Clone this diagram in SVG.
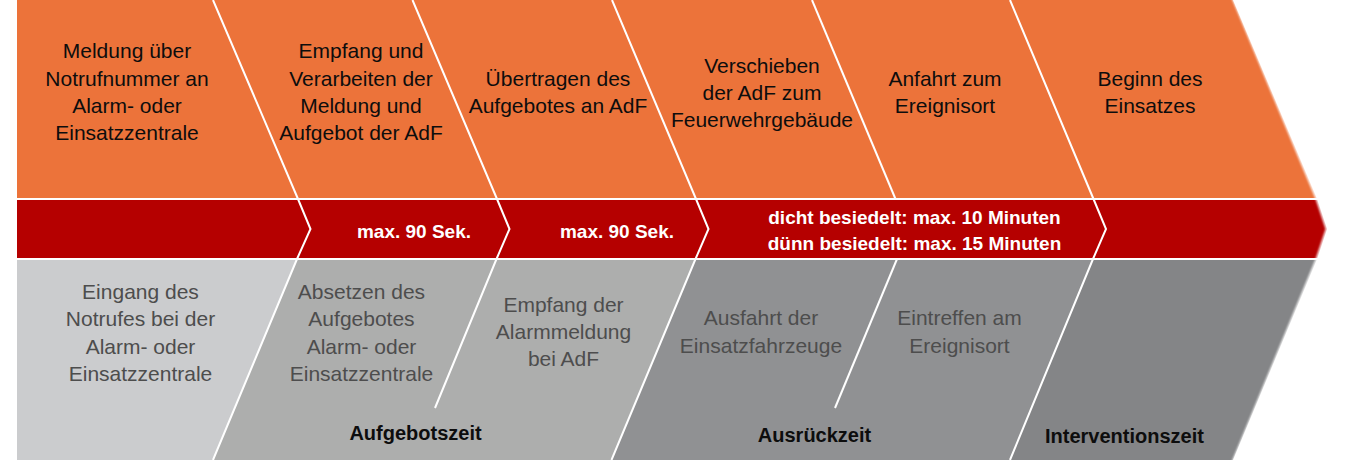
<svg xmlns="http://www.w3.org/2000/svg" width="1350" height="460" viewBox="0 0 1350 460">
  <style>
    .t { font-family: "Liberation Sans", Arial, sans-serif; font-size: 21px; text-anchor: middle; }
    .top { fill: #0d0d0d; }
    .low { fill: #4d4d4d; }
    .red { font-family: "Liberation Sans", Arial, sans-serif; font-size: 19px; font-weight: bold; fill: #ffffff; text-anchor: middle; }
    .phase { font-family: "Liberation Sans", Arial, sans-serif; font-size: 20px; font-weight: bold; fill: #0d0d0d; text-anchor: middle; }
    .sep { fill: none; stroke: #ffffff; stroke-width: 2; stroke-linejoin: miter; }
  </style>
  <defs>
    <filter id="soft" x="-5%" y="-5%" width="110%" height="110%">
      <feGaussianBlur stdDeviation="1.3"/>
    </filter>
  </defs>
  <rect width="1350" height="460" fill="#ffffff"/>

  <g id="bands">
    <polygon points="17,0 1233,0 1317,199 17,199" fill="#EC733A"/>
    <polygon points="17,199 1317,199 1327,229 1317,259 17,259" fill="#B50000"/>
    <polygon points="17,259 297,259 213,460 17,460" fill="#CBCCCE"/>
    <polygon points="297,259 695.5,259 611.5,460 213,460" fill="#ADAEAD"/>
    <polygon points="695.5,259 1093,259 1010,460 611.5,460" fill="#909193"/>
    <polygon points="1093,259 1317,259 1233,460 1010,460" fill="#848587"/>
    <polyline points="1233,-2 1317,199 1327,229 1317,259 1233,462" fill="none" stroke="#ffffff" stroke-width="2.5" filter="url(#soft)"/>
  </g>

  <g id="separators">
    <line class="sep" x1="17" y1="199" x2="1318" y2="199" stroke-width="1.6"/>
    <line class="sep" x1="17" y1="259" x2="1318" y2="259" stroke-width="1.6"/>
    <polyline class="sep" points="213,0 298,199 310.5,229 297,259 213,460"/>
    <polyline class="sep" points="412.5,0 497,199 509.5,229 496.5,259 435,408"/>
    <polyline class="sep" points="612,0 696,199 708.5,229 695.5,259 611.5,460"/>
    <polyline class="sep" points="812,0 895.5,199"/>
    <polyline class="sep" points="897,259 835,408"/>
    <polyline class="sep" points="1010,0 1093.5,199 1106,229 1093,259 1010,460"/>
  </g>

  <g id="step1">
    <text class="t top" x="127" y="58">Meldung über</text>
    <text class="t top" x="127" y="86">Notrufnummer an</text>
    <text class="t top" x="127" y="113">Alarm- oder</text>
    <text class="t top" x="127" y="140">Einsatzzentrale</text>
  </g>
  <g id="step2">
    <text class="t top" x="361" y="58">Empfang und</text>
    <text class="t top" x="361" y="86">Verarbeiten der</text>
    <text class="t top" x="361" y="113">Meldung und</text>
    <text class="t top" x="361" y="140">Aufgebot der AdF</text>
  </g>
  <g id="step3">
    <text class="t top" x="558" y="85.5">Übertragen des</text>
    <text class="t top" x="558" y="112.5">Aufgebotes an AdF</text>
  </g>
  <g id="step4">
    <text class="t top" x="762" y="73">Verschieben</text>
    <text class="t top" x="762" y="100">der AdF zum</text>
    <text class="t top" x="762" y="127">Feuerwehrgebäude</text>
  </g>
  <g id="step5">
    <text class="t top" x="945" y="85.5">Anfahrt zum</text>
    <text class="t top" x="945" y="112.5">Ereignisort</text>
  </g>
  <g id="step6">
    <text class="t top" x="1150" y="85.5">Beginn des</text>
    <text class="t top" x="1150" y="112.5">Einsatzes</text>
  </g>

  <g id="time1">
    <text class="red" x="414" y="237.5">max. 90 Sek.</text>
  </g>
  <g id="time2">
    <text class="red" x="617" y="237.5">max. 90 Sek.</text>
  </g>
  <g id="time3">
    <text class="red" x="914.5" y="223.5">dicht besiedelt: max. 10 Minuten</text>
    <text class="red" x="914.5" y="250">dünn besiedelt: max. 15 Minuten</text>
  </g>

  <g id="event1">
    <text class="t low" x="140.5" y="298.5">Eingang des</text>
    <text class="t low" x="140.5" y="326">Notrufes bei der</text>
    <text class="t low" x="140.5" y="353.5">Alarm- oder</text>
    <text class="t low" x="140.5" y="380.5">Einsatzzentrale</text>
  </g>
  <g id="event2">
    <text class="t low" x="361.5" y="298.5">Absetzen des</text>
    <text class="t low" x="361.5" y="326">Aufgebotes</text>
    <text class="t low" x="361.5" y="353.5">Alarm- oder</text>
    <text class="t low" x="361.5" y="380.5">Einsatzzentrale</text>
  </g>
  <g id="event3">
    <text class="t low" x="563.5" y="312">Empfang der</text>
    <text class="t low" x="563.5" y="339">Alarmmeldung</text>
    <text class="t low" x="563.5" y="366">bei AdF</text>
  </g>
  <g id="event4">
    <text class="t low" x="761" y="325">Ausfahrt der</text>
    <text class="t low" x="761" y="352.5">Einsatzfahrzeuge</text>
  </g>
  <g id="event5">
    <text class="t low" x="959.5" y="325">Eintreffen am</text>
    <text class="t low" x="959.5" y="352.5">Ereignisort</text>
  </g>

  <g id="phase1">
    <text class="phase" x="415.5" y="440">Aufgebotszeit</text>
  </g>
  <g id="phase2">
    <text class="phase" x="814.5" y="441.5">Ausrückzeit</text>
  </g>
  <g id="phase3">
    <text class="phase" x="1124.5" y="443">Interventionszeit</text>
  </g>
</svg>
